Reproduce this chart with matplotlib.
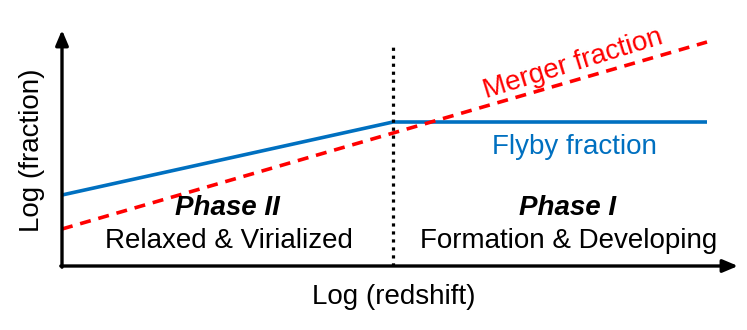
import matplotlib
matplotlib.use("Agg")
import matplotlib.pyplot as plt
import numpy as np

plt.rcParams['font.family'] = ['Liberation Sans', 'DejaVu Sans']

# Schematic data (arbitrary log units)
flyby_x = [0, 331, 645]
flyby_y = [71, 144, 144]
merger_x = [0, 645]
merger_y = [37, 224]
transition_x = 331
phase_labels = ["Phase II", "Phase I"]
phase_desc = ["Relaxed & Virialized", "Formation & Developing"]

W, H = 747, 330
fig = plt.figure(figsize=(W/100, H/100), dpi=100)
x0, x1, y0, y1 = 62, 737, 266, 30
ax = fig.add_axes([x0/W, 1 - y0/H, (x1-x0)/W, (y0-y1)/H])
ax.set_xlim(0, x1-x0)
ax.set_ylim(0, y0-y1)
ax.axis('off')

blue = '#0070C0'
red = '#FF0000'
fs = 20

ax.plot(flyby_x, flyby_y, color=blue, lw=2.6, solid_capstyle='butt')
ax.plot(merger_x, merger_y, color=red, lw=2.6, dashes=(3.05, 2.18), dash_capstyle='butt')
ax.plot([transition_x, transition_x], [0, 223], color='black', lw=2.3, linestyle=(0, (1, 1.5)))

# axes arrows
ap = dict(arrowstyle='-|>,head_length=0.9,head_width=0.38', color='black', lw=2.4, shrinkA=0, shrinkB=0)
ax.annotate('', xy=(0, 236), xytext=(0, -1.2), xycoords='data', arrowprops=ap, annotation_clip=False)
ax.annotate('', xy=(676, 0), xytext=(-1.2, 0), xycoords='data', arrowprops=ap, annotation_clip=False)

# labels
ang = np.degrees(np.arctan((merger_y[1]-merger_y[0]) / (merger_x[1]-merger_x[0])))
ax.text(573-x0, y0-64, "Merger fraction", color=red, fontsize=fs, rotation=ang + 1,
        rotation_mode='anchor', ha='center', va='center')
ax.text(574-x0, y0-147, "Flyby fraction", color=blue, fontsize=fs, ha='center', va='center')

ax.text(227-x0, y0-208, phase_labels[0], fontsize=fs, fontweight='bold', fontstyle='italic', ha='center', va='center')
ax.text(229-x0, y0-241, phase_desc[0], fontsize=fs, ha='center', va='center')
ax.text(568-x0, y0-208, phase_labels[1], fontsize=fs, fontweight='bold', fontstyle='italic', ha='center', va='center')
ax.text(569-x0, y0-241, phase_desc[1], fontsize=fs, ha='center', va='center')

fig.text(32/W, 1-150/H, "Log (fraction)", fontsize=fs, rotation=90, ha='center', va='center')
fig.text(394/W, 1-297/H, "Log (redshift)", fontsize=fs, ha='center', va='center')

fig.savefig('out.png', dpi=100, facecolor='white')
